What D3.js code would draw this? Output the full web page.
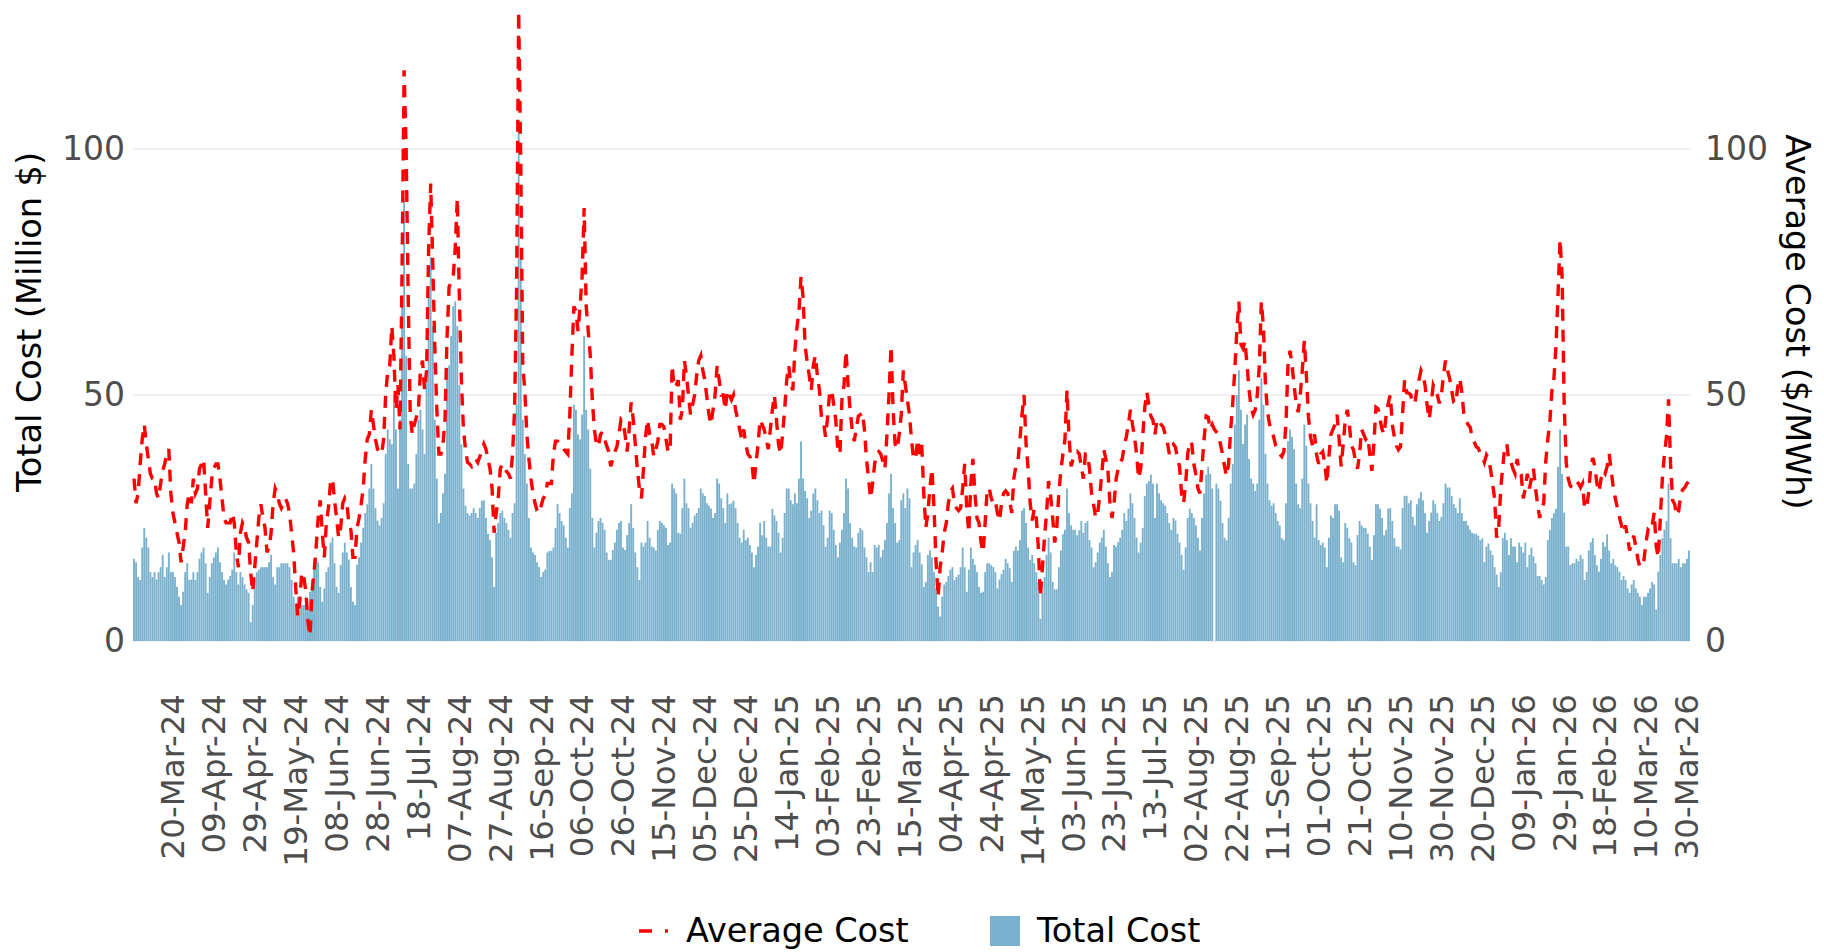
<!DOCTYPE html>
<html>
<head>
<meta charset="utf-8">
<script src="https://cdn.jsdelivr.net/npm/d3@7"></script>
<style>
  body { margin: 0; background: #fff; }
  svg { display: block; }
  text { font-family: "DejaVu Sans", sans-serif; }
</style>
</head>
<body>
<svg id="chart" width="1824" height="952"></svg>
<script>
// Daily series, one value per day starting at startDate
const startDate = "2024-03-01";

const tickLabels = [
  "20-Mar-24", "09-Apr-24", "29-Apr-24", "19-May-24", "08-Jun-24", "28-Jun-24",
  "18-Jul-24", "07-Aug-24", "27-Aug-24", "16-Sep-24", "06-Oct-24", "26-Oct-24",
  "15-Nov-24", "05-Dec-24", "25-Dec-24", "14-Jan-25", "03-Feb-25", "23-Feb-25",
  "15-Mar-25", "04-Apr-25", "24-Apr-25", "14-May-25", "03-Jun-25", "23-Jun-25",
  "13-Jul-25", "02-Aug-25", "22-Aug-25", "11-Sep-25", "01-Oct-25", "21-Oct-25",
  "10-Nov-25", "30-Nov-25", "20-Dec-25", "09-Jan-26", "29-Jan-26", "18-Feb-26",
  "10-Mar-26", "30-Mar-26"
];

const yTicks = [0, 50, 100];

// Average cost ($/MWh)
const avgCost = [
  33, 28, 30, 36, 41, 44, 40, 37, 34, 33,
  33, 30, 29, 32, 34.6, 36, 38, 39, 30, 26,
  24, 22, 20, 16, 19, 22, 27.8, 30, 28, 33,
  30, 31, 35, 36, 37, 30, 23, 28, 33, 35,
  36, 36, 33, 29, 25, 24, 24, 24, 26, 24,
  18, 15, 22, 24, 23, 21, 20, 14, 10, 15,
  20, 25, 27.8, 25, 23, 18, 19, 22, 28, 31,
  30, 28, 27, 28, 29, 28, 26, 22, 18, 11,
  5, 8, 14, 13, 10, 4, 1, 10, 14, 19,
  25, 28.6, 22, 17, 24, 27, 32, 33, 28.6, 25,
  21, 23, 28, 29, 28, 24, 22.6, 17, 17, 23,
  25, 27.8, 31, 37, 41, 42, 47, 44, 41, 39,
  38.5, 38, 41, 50, 55, 56, 64, 58, 47, 52,
  43, 75, 116, 100, 70, 46, 42, 44, 45.5, 47,
  55, 57, 51, 55, 80, 93, 77, 60, 47, 38,
  38, 40, 45, 62, 72, 73, 74, 80, 90, 70,
  53, 43, 39, 36.3, 36, 35.5, 36.5, 37, 36.3, 37.5,
  38.5, 40, 39, 37, 35, 31, 22, 26, 29, 35,
  36, 35.5, 34.5, 34, 33, 38, 47, 72, 128, 98,
  56, 51, 42, 37, 33, 30, 28, 26.5, 26, 27.5,
  29, 29.5, 32, 32, 32, 38, 40.6, 40.6, 39.8, 39.7,
  39, 38.5, 38, 46, 58, 68, 67, 63, 68, 74,
  88, 68, 63, 58, 49, 43, 40, 39.5, 42, 42.5,
  41, 39.7, 38.5, 35.5, 37, 38.5, 39.5, 42, 45, 44.5,
  42, 38.5, 43, 48.5, 45, 40, 35, 31, 29, 35,
  41.5, 45, 42, 41, 37.5, 39, 40.5, 44, 44, 43.5,
  41, 38.5, 38.5, 56, 51.5, 52, 53, 45, 47, 57,
  54, 50, 46, 48, 50, 54, 57, 58, 55, 53,
  49.5, 46, 44, 47, 50, 56, 53, 50, 50, 47,
  51, 50, 49, 50, 47, 45, 43, 41, 43, 40,
  38, 37.5, 36, 32, 36, 40, 45, 44, 43, 41,
  39, 43, 47, 50, 45, 40, 38, 42, 47, 53,
  56, 52, 51, 59, 63.7, 67, 74, 70, 60, 56.8,
  54, 51, 56, 58, 54, 51, 45.5, 44.5, 41.5, 45.5,
  50.5, 51, 48, 44.9, 39, 38, 49, 52, 59, 52,
  47, 43, 40.6, 43, 45.7, 46, 46.5, 43, 37, 33,
  29, 32, 36, 38, 38.5, 38, 36.5, 35, 42, 50,
  60, 47, 40, 39, 42, 46, 55, 52, 49, 46,
  41, 37, 37, 41, 38, 40, 30, 23, 26, 31,
  35, 27, 16, 9, 15, 18, 22, 24, 28, 30.3,
  31, 28, 27, 26.5, 27, 31, 36, 27, 22, 32,
  37, 30, 25, 24, 20, 18, 24, 31, 31, 29,
  28, 28.5, 26, 24.4, 28, 30, 30.5, 30, 28.5, 26,
  33, 35.5, 36.3, 41, 46, 50, 40, 35, 28, 24.5,
  26.9, 25, 19, 9, 15, 21, 26, 32.5, 29.5, 25,
  20, 23, 30, 34.6, 38, 41, 51, 41.5, 35.5, 37,
  38, 38.5, 38, 35.5, 33, 38, 38, 35, 30, 27.8,
  25, 26, 29.5, 34, 38.9, 37, 34.6, 28, 25, 28,
  32.9, 35, 36.3, 37, 39.7, 41.5, 44, 47, 44, 41.5,
  38, 33, 35, 41.5, 47.4, 50.6, 48, 45.7, 44.9, 42,
  45, 44.9, 44, 43.5, 42, 40.6, 38, 39.5, 40, 39.4,
  37, 35.5, 30, 28, 32, 38, 40.6, 40, 36, 33.8,
  31, 30, 35.5, 41, 45.7, 45.5, 43, 44, 43, 42.5,
  42, 40, 38, 35.5, 33.5, 36, 43, 48.3, 55, 63,
  69, 60.3, 59.5, 61, 56, 51, 47.4, 46, 47, 50,
  56, 69, 64, 52, 46.6, 44, 43, 41.5, 39.7, 38.9,
  38, 37.5, 38.5, 44, 56, 59, 56, 52, 48.3, 46.5,
  50, 55, 61, 54, 45.7, 41.5, 39.7, 42, 37.8, 36,
  38, 38.5, 36, 32, 37.5, 42, 43, 44, 46, 41,
  35.5, 40, 44.9, 47, 44, 39.7, 38.9, 36.5, 35, 38,
  43, 42, 41, 41.5, 38, 34.6, 40, 47.5, 47.2, 45,
  43, 42, 46, 48.3, 50, 44, 41.5, 39.7, 38.9, 39.5,
  46, 53, 50.5, 50.4, 50, 48.3, 48.3, 51, 53, 55,
  54, 52, 48, 45, 48.3, 52, 51, 50, 48.3, 50,
  54, 57, 55, 53.4, 51, 48.5, 48.3, 51.7, 53.4, 50.5,
  46, 44.9, 44, 43.5, 41.5, 40.5, 39.5, 39.2, 38.2, 37.5,
  36.3, 37.8, 37, 35, 32, 29, 21, 23, 31, 35.5,
  39.7, 40, 36.3, 36.3, 35, 34, 37, 34.5, 33.8, 29,
  31, 34, 31, 33, 35, 31, 27.8, 25, 27, 28,
  36.5, 41, 44.5, 50.9, 53.4, 60, 70.5, 81.6, 74, 48.3,
  36.3, 33, 31.5, 31.2, 32, 32.5, 32, 31.2, 32, 26.9,
  27.2, 30.3, 35.5, 37.2, 35.5, 32, 30.3, 32.9, 34.6, 34,
  35.5, 38, 34.6, 31.2, 29, 27, 25.2, 23.5, 22, 23.5,
  20.9, 18.4, 19.8, 21.4, 19.2, 16.7, 15, 15.4, 16.5, 20.1,
  22.6, 22.2, 23.5, 26.1, 19.2, 17, 25, 33, 38, 41.5,
  49.1, 36, 28.6, 27.8, 25.5, 26.5, 30, 30.8, 31.2, 32,
  32.5
];

// Total cost (million $); null = no reading that day
const totalCost = [
  16.7, 16, 13, 12.4, 19, 23, 21, 19, 14, 13,
  14, 12.5, 14, 15, 17.5, 13, 15, 18, 14, 14,
  13, 11, 9, 7.3, 10, 14, 15.8, 12.4, 12.5, 14,
  12.4, 14, 16.7, 18, 19, 15.8, 9.8, 13, 15.8, 17,
  18, 19, 16, 14, 12.4, 11.5, 12.5, 13.2, 14.5, 18,
  14, 11.5, 14, 13, 11.5, 10.5, 9.8, 3.8, 7.3, 12.4,
  14, 14.5, 15, 15, 15, 15, 16, 17.5, 13, 11.5,
  15, 15, 15.8, 15.8, 15.8, 15.8, 15, 12.4, 9, 7.3,
  9, 7.3, 7.3, 7.3, 9, 6.4, 10, 12.4, 15.8, 16.7,
  16, 11, 8, 10.7, 14, 15, 20, 21, 15.8, 11,
  9.8, 15.5, 18, 20, 18, 16.5, 11, 8, 7.3, 15.5,
  17, 20, 23, 26, 27.8, 31, 36, 31, 27, 24.5,
  23.5, 25, 28, 38, 43, 41, 40, 50, 43, 31,
  45, 70, 90, 58, 36, 31, 31, 32, 38, 45,
  47, 43, 38, 55, 70, 78, 64, 45, 33, 24,
  26, 30, 34, 55, 56, 62, 68, 69, 64, 52,
  40, 31, 27.5, 26, 25.5, 26, 27, 26, 25, 27,
  28.5, 28.6, 25, 21.8, 20.5, 17, 11, 22, 24, 26,
  26.5, 25, 24, 22.6, 21, 26, 28, 48, 104, 79,
  45, 38, 32, 25, 19, 18, 17.5, 16, 15, 13,
  14, 14.5, 18, 18.3, 18.3, 19, 23, 27.8, 26, 24.4,
  23.5, 21, 19, 27, 30, 48, 47, 42, 41, 46,
  62, 47, 43, 35, 25, 19, 22, 24.4, 25, 24,
  22.6, 18, 16.5, 16.5, 18.5, 20, 22.6, 24, 24.4, 19,
  18.5, 21.5, 24, 27.8, 23, 18, 15, 12.4, 20, 19.2,
  20, 24.4, 21, 19.2, 19, 18.4, 22.6, 24.4, 24, 23.5,
  23, 19.5, 20, 32, 31, 30, 22, 21.8, 27, 33,
  28, 27, 23, 24, 25.5, 26, 27, 31, 30, 29.5,
  28, 27.5, 26.9, 25, 26, 33, 32, 29, 27, 24,
  30, 27.8, 28, 28.5, 27, 24, 21, 20, 22.6, 20.5,
  21, 19.5, 18, 15, 17.5, 19.2, 24, 21.5, 24.4, 21,
  19.2, 19.2, 26.9, 25.5, 24.4, 22, 18, 21, 26, 31,
  31, 28.6, 27.8, 30, 28, 33, 40.6, 33, 30.5, 29,
  25, 26.5, 30, 31, 28.6, 26, 26.5, 23.5, 19.2, 21,
  26.5, 26, 22.6, 19.5, 17, 20, 22.6, 26, 33, 31,
  24, 21, 19.2, 19, 22, 23, 22.5, 19, 17, 14,
  16, 14, 19.5, 19, 19.5, 17, 18.5, 20.5, 24, 30,
  34, 27, 24, 20, 20.5, 28.6, 30, 27, 31, 29,
  15, 18, 19.5, 20.5, 18, 15.6, 11, 12, 17.5, 18.4,
  17, 14, 10.7, 7, 5, 9, 11.5, 12, 13.2, 14.5,
  15, 12.4, 13, 13.5, 15, 19, 15, 10, 14.5, 19,
  16.7, 15.5, 14, 11, 9.8, 10, 14, 15.8, 15.8, 15.4,
  15, 14, 10.7, 12.5, 13.6, 14.5, 16.7, 15.8, 14.8, 12,
  18.3, 19.2, 18.4, 20.5, 26.5, 27, 24, 19, 16.5, 17.5,
  15.8, 14, 12, 4.5, 9.8, 13, 17.5, 21, 18, 12,
  10.5, 10.5, 15, 18.4, 21.7, 22.6, 31, 26, 23.5, 22.6,
  22.6, 21.5, 22.5, 24.4, 22, 24, 24.4, 20.5, 19, 15,
  16, 18, 20, 21, 22.6, 19.2, 15.8, 13, 14, 19.5,
  19.2, 20.1, 21, 22.6, 26, 24.4, 26.9, 30, 28, 25,
  21, 18, 20, 23, 29.5, 32, 32.5, 33.8, 32, 25,
  32, 30, 28.6, 28, 27.5, 26, 24, 22.6, 25, 24.5,
  21.8, 20, 17.5, 14.5, 19, 25, 26.9, 26, 25, 23.5,
  21, 18.4, 25, 30, 33.8, 35.4, 34, 31, null, 32,
  31, 28.5, 24, 21, 20.5, 25, 32, 36, 44, 50,
  55, 47, 40, 44, 46, 37, 33, 32, 30.5, 32,
  45, 53.4, 48, 38, 32, 28.6, 27.5, 28, 26, 24.4,
  23.5, 20.9, 20.5, 28, 40.6, 43, 41.5, 39, 32, 27.8,
  27, 33, 44, 39.7, 32, 28, 24.4, 21, 27.8, 20.5,
  19.5, 20, 19, 15, 21, 25.5, 25, 27.8, 27.8, 26.5,
  17, 16, 24, 23, 20.9, 20, 16, 15.4, 21.5, 24.4,
  23.5, 23, 23, 21.8, 19.2, 16.5, 21.5, 27.8, 27.8, 26.9,
  25, 21.5, 22.6, 26.9, 27, 24.4, 20.9, 19.2, 19.2, 18.6,
  27, 29.5, 29.5, 28, 28.6, 25.2, 23.5, 27.8, 29, 30.3,
  28.6, 26, 22, 24.4, 26.1, 28.6, 27.8, 26, 24.4, 25.2,
  28, 32, 31.2, 31.2, 29.5, 27.8, 27, 26, 29, 26,
  24.4, 24.4, 23.5, 22.6, 22, 21.8, 21.8, 21.4, 20.5, 20.9,
  16, 19.2, 19.8, 18.4, 17.5, 15, 13.5, 11, 14, 20.9,
  22, 20.5, 17.5, 20.9, 19.2, 19.2, 16, 20, 19.2, 18,
  20, 15, 17.5, 19, 17.2, 15.8, 13.2, 13.2, 12.4, 11.5,
  13, 20.5, 22.6, 25, 26, 26.9, 35.4, 43, 34, 26.1,
  19.2, 19.2, 15.4, 15.8, 15.8, 16.7, 16.2, 17.5, 16.7, 12.4,
  14, 18.4, 20.1, 20.9, 17.5, 15.4, 14.1, 16.7, 20.1, 19.2,
  21.7, 18.4, 15.8, 16.7, 15.4, 15, 14.1, 12.4, 13.2, 12.4,
  10.7, 9.8, 11.5, 12.4, 10.7, 9.8, 9, 7.3, 9, 9,
  9.8, 10.7, 12, 11.5, 6.4, 14.1, 17.5, 20.9, 22.6, 24.4,
  32, 20.9, 15.8, 15.8, 15.8, 16.7, 15, 15.8, 15.8, 16.7,
  18.4
];

// ---- layout ----
const plot = { left: 133, right: 1690, top: 10, bottom: 641 };
const barColor = "#78b0cd";
const lineColor = "#ff0000";
const tickColor = "#4d4d4d";

const parseDay = d3.timeParse("%Y-%m-%d");
const fmtDay = d3.timeFormat("%d-%b-%y");
const day0 = parseDay(startDate);
const data = totalCost.map((t, i) => ({
  key: fmtDay(d3.timeDay.offset(day0, i)),
  total: t,
  avg: avgCost[i]
}));

const x = d3.scaleBand()
  .domain(data.map(d => d.key))
  .range([plot.left, plot.right])
  .paddingInner(0.1)
  .paddingOuter(0.05);

// both axes share the same 0–100 scale
const y = d3.scaleLinear().domain([0, 100]).range([plot.bottom, 149]);

const svg = d3.select("#chart");

// horizontal grid
svg.append("g")
  .selectAll("line")
  .data(yTicks)
  .join("line")
  .attr("x1", plot.left).attr("x2", plot.right)
  .attr("y1", d => y(d)).attr("y2", d => y(d))
  .attr("stroke", "#ebebeb")
  .attr("stroke-width", 1.6);

// bars
svg.append("g")
  .selectAll("rect")
  .data(data.filter(d => d.total != null))
  .join("rect")
  .attr("x", d => x(d.key))
  .attr("width", x.bandwidth())
  .attr("y", d => y(d.total))
  .attr("height", d => y(0) - y(d.total))
  .attr("fill", barColor);

// average cost line
const line = d3.line()
  .x(d => x(d.key) + x.bandwidth() / 2)
  .y(d => y(d.avg));

svg.append("path")
  .datum(data)
  .attr("d", line)
  .attr("fill", "none")
  .attr("stroke", lineColor)
  .attr("stroke-width", 3.4)
  .attr("stroke-dasharray", "12 9");

// left axis
const gLeft = svg.append("g")
  .attr("transform", `translate(${plot.left},0)`)
  .call(d3.axisLeft(y).tickValues(yTicks).tickSize(0).tickPadding(8));
gLeft.select(".domain").remove();
gLeft.selectAll("text")
  .attr("font-size", 33).attr("fill", tickColor)
  .attr("font-family", "DejaVu Sans");

// right axis
const gRight = svg.append("g")
  .attr("transform", `translate(${plot.right},0)`)
  .call(d3.axisRight(y).tickValues(yTicks).tickSize(0).tickPadding(15));
gRight.select(".domain").remove();
gRight.selectAll("text")
  .attr("font-size", 33).attr("fill", tickColor)
  .attr("font-family", "DejaVu Sans");

// bottom axis with rotated date labels
const gBottom = svg.append("g")
  .attr("transform", `translate(0,${plot.bottom})`)
  .call(d3.axisBottom(x).tickValues(tickLabels).tickSize(0));
gBottom.select(".domain").remove();
gBottom.selectAll("text")
  .attr("font-size", 32.5).attr("fill", tickColor)
  .attr("font-family", "DejaVu Sans")
  .attr("transform", "rotate(-90)")
  .attr("text-anchor", "end")
  .attr("x", -53).attr("y", 0)
  .attr("dy", "0.35em");

// axis titles
svg.append("text")
  .attr("transform", "translate(29,322) rotate(-90)")
  .attr("text-anchor", "middle")
  .attr("dominant-baseline", "central")
  .attr("font-size", 33.5)
  .attr("fill", "#000")
  .text("Total Cost (Million $)");

svg.append("text")
  .attr("transform", "translate(1797,322) rotate(90)")
  .attr("text-anchor", "middle")
  .attr("dominant-baseline", "central")
  .attr("font-size", 33.5)
  .attr("fill", "#000")
  .text("Average Cost ($/MWh)");

// legend
const legend = svg.append("g");
legend.append("line")
  .attr("x1", 639).attr("x2", 668)
  .attr("y1", 931).attr("y2", 931)
  .attr("stroke", lineColor)
  .attr("stroke-width", 3.4)
  .attr("stroke-dasharray", "13 13");
legend.append("text")
  .attr("x", 686).attr("y", 942)
  .attr("font-size", 33.5).attr("fill", "#000")
  .text("Average Cost");
legend.append("rect")
  .attr("x", 990).attr("y", 916)
  .attr("width", 30).attr("height", 30)
  .attr("fill", barColor);
legend.append("text")
  .attr("x", 1037).attr("y", 942)
  .attr("font-size", 33.5).attr("fill", "#000")
  .text("Total Cost");
</script>
</body>
</html>
